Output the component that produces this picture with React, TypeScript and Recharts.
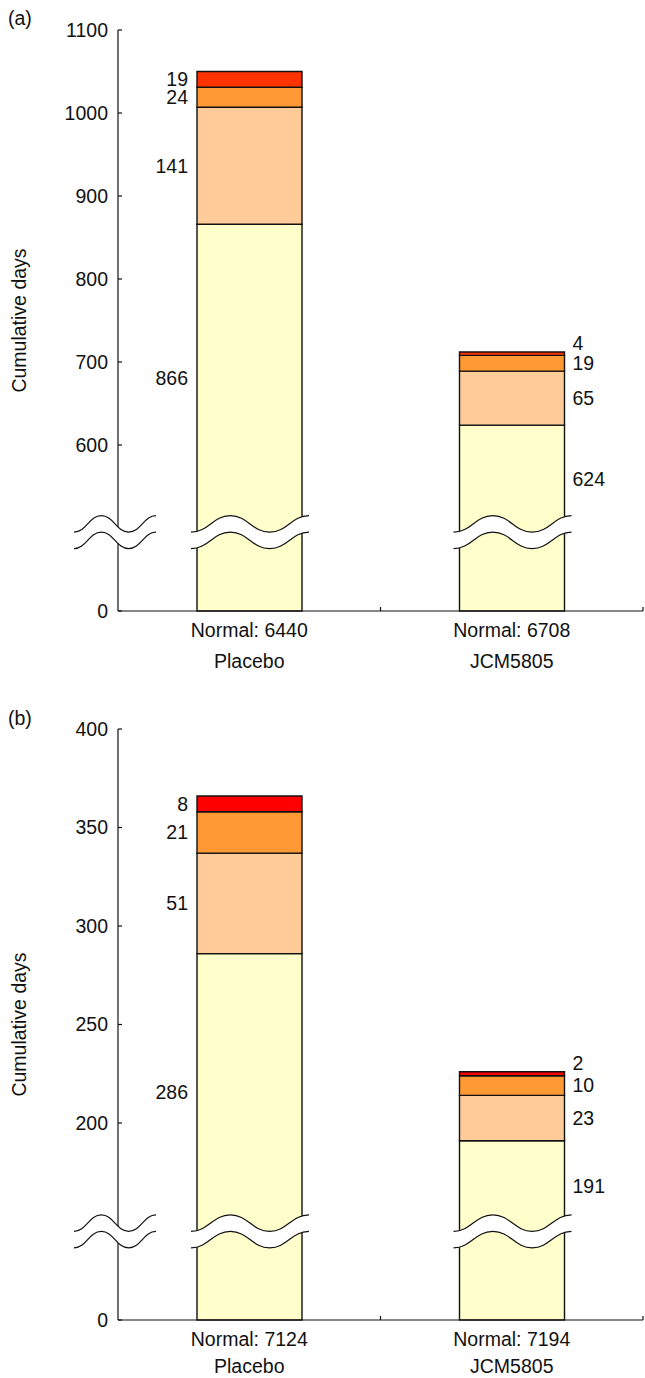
import React from 'react'
import { BarChart, Bar, XAxis, YAxis, ReferenceArea, LabelList } from 'recharts'

const FONT = '"Liberation Sans", Arial, Helvetica, sans-serif'
const INK = '#111'
const FS = 19.5

const groups = ['Placebo', 'JCM5805']

// panel (a)
const normalDaysA = [6440, 6708]
const level1A = [866, 624]
const level2A = [141, 65]
const level3A = [24, 19]
const level4A = [19, 4]
const tickValuesA = [0, 600, 700, 800, 900, 1000, 1100]
const colorsA = ['#FFFFCC', '#FFCC99', '#FF9933', '#FF3300']

// panel (b)
const normalDaysB = [7124, 7194]
const level1B = [286, 191]
const level2B = [51, 23]
const level3B = [21, 10]
const level4B = [8, 2]
const tickValuesB = [0, 200, 250, 300, 350, 400]
const colorsB = ['#FFFFCC', '#FFCC99', '#FF9933', '#FF0000']

// squiggle geometry
const BAND = 16.5
const AMP = 8.2

type Pt = [number, number]
type Seg = [Pt, Pt, Pt, Pt]

function waveSegs(x0: number, w: number, cy: number): Seg[] {
  const h = w / 3
  const ys = [cy + AMP, cy - AMP, cy + AMP, cy - AMP]
  const segs: Seg[] = []
  for (let i = 0; i < 3; i++) {
    const xa = x0 + i * h
    const xb = xa + h
    segs.push([
      [xa, ys[i]],
      [xa + h * 0.45, ys[i]],
      [xb - h * 0.45, ys[i + 1]],
      [xb, ys[i + 1]],
    ])
  }
  return segs
}

function BreakMark({ x0, w, cy }: { x0: number; w: number; cy: number }) {
  const up = waveSegs(x0, w, cy - BAND / 2)
  const lo = waveSegs(x0, w, cy + BAND / 2)
  const line = (segs: Seg[]) =>
    `M${segs[0][0]} ` + segs.map((s) => `C${s[1]} ${s[2]} ${s[3]}`).join(' ')
  const back = lo
    .slice()
    .reverse()
    .map((s) => `C${s[2]} ${s[1]} ${s[0]}`)
    .join(' ')
  const area = line(up) + ` L${lo[2][3]} ` + back + ' Z'
  return (
    <g>
      <path d={area} fill="#fff" stroke="none" />
      <path d={line(up)} fill="none" stroke={INK} strokeWidth={1.2} />
      <path d={line(lo)} fill="none" stroke={INK} strokeWidth={1.2} />
    </g>
  )
}

function GroupTick(props: any) {
  const { x, y, payload, index, normal, line1, line2 } = props
  const half = payload?.offset ?? (props.width || 0) / (props.visibleTicksCount || 2) / 2
  return (
    <g>
      <line x1={x + half} x2={x + half} y1={y} y2={y - 4} stroke={INK} strokeWidth={1.2} />
      <text x={x} y={y + line1} dy="0.355em" textAnchor="middle" fontSize={FS} fontFamily={FONT} fill={INK}>
        {`Normal: ${normal[index]}`}
      </text>
      <text x={x} y={y + line2} dy="0.355em" textAnchor="middle" fontSize={FS} fontFamily={FONT} fill={INK}>
        {payload.value}
      </text>
    </g>
  )
}

interface PanelProps {
  tag: string
  top: number
  height: number
  marginTop: number
  marginBottom: number
  xAxisHeight: number
  line1: number
  line2: number
  normal: number[]
  levels: number[][]
  tickValues: number[]
  colors: string[]
  offset: number // amount cut out of the axis above the break
  breakAt: number // position of the break in axis units
  max: number
}

function Panel(p: PanelProps) {
  const rows = groups.map((name, i) => ({
    name,
    l1: p.levels[0][i] - p.offset,
    l2: p.levels[1][i],
    l3: p.levels[2][i],
    l4: p.levels[3][i],
    r1: p.levels[0][i],
    r2: p.levels[1][i],
    r3: p.levels[2][i],
    r4: p.levels[3][i],
  }))
  const toAxis = (v: number) => (v === 0 ? 0 : v - p.offset)
  const ticks = p.tickValues.map(toAxis)

  const segLabel = (level: number) => (lp: any) => {
    const vb = lp.viewBox || lp
    const x = vb.x
    const w = vb.width
    const top = Math.min(vb.y, vb.y + vb.height)
    const h = Math.abs(vb.height)
    const i = lp.index
    let cy = top + h / 2
    if (level === 0) {
      const tv = rows[i].l1
      const brkPx = top + h - (h * p.breakAt) / tv
      cy = (top + brkPx) / 2
    } else if (level === 3 && h < 10) {
      cy = top - 8.5
    }
    const left = i === 0
    return (
      <text
        x={left ? x - 9 : x + w + 8}
        y={cy}
        dy="0.355em"
        textAnchor={left ? 'end' : 'start'}
        fontSize={FS}
        fontFamily={FONT}
        fill={INK}
      >
        {lp.value}
      </text>
    )
  }

  const baseShape = (sp: any) => {
    const top = Math.min(sp.y, sp.y + sp.height)
    const h = Math.abs(sp.height)
    const tv = sp.payload?.l1 ?? 1
    const brkPx = top + h - (h * p.breakAt) / tv
    return (
      <g>
        <rect x={sp.x} y={top} width={sp.width} height={h} fill={sp.fill} stroke={INK} strokeWidth={1.4} />
        <BreakMark x0={sp.x - 6} w={sp.width + 13} cy={brkPx} />
      </g>
    )
  }

  const keys = ['l1', 'l2', 'l3', 'l4']
  const rawKeys = ['r1', 'r2', 'r3', 'r4']

  return (
    <div style={{ position: 'absolute', left: 0, top: p.top, width: 645, height: p.height }}>
      <div
        style={{
          position: 'absolute',
          left: 8,
          top: 8,
          fontSize: FS,
          lineHeight: '20px',
          color: INK,
          fontFamily: FONT,
        }}
      >
        {p.tag}
      </div>
      <BarChart
        width={645}
        height={p.height}
        data={rows}
        margin={{ top: p.marginTop, right: 2, left: 0, bottom: p.marginBottom }}
      >
        <XAxis
          dataKey="name"
          height={p.xAxisHeight}
          tickSize={0}
          tickMargin={0}
          tickLine={false}
          interval={0}
          axisLine={{ stroke: INK, strokeWidth: 1.2 }}
          tick={(tp: any) => <GroupTick {...tp} normal={p.normal} line1={p.line1} line2={p.line2} />}
        />
        <YAxis
          type="number"
          domain={[0, p.max]}
          ticks={ticks}
          interval={0}
          width={118}
          tickSize={-4}
          tickMargin={14}
          tickFormatter={(v: number) => (v === 0 ? '0' : String(v + p.offset))}
          axisLine={{ stroke: INK, strokeWidth: 1.2 }}
          tickLine={{ stroke: INK, strokeWidth: 1.2 }}
          tick={{ fill: INK, fontSize: FS, fontFamily: FONT }}
          label={{
            value: 'Cumulative days',
            angle: -90,
            position: 'insideLeft',
            offset: 19,
            style: { textAnchor: 'middle', fontSize: FS, fill: INK, fontFamily: FONT },
          }}
        />
        {keys.map((k, li) => (
          <Bar
            key={k}
            dataKey={k}
            stackId="days"
            fill={p.colors[li]}
            stroke={INK}
            strokeWidth={1.4}
            barSize={105}
            isAnimationActive={false}
            shape={li === 0 ? baseShape : undefined}
          >
            <LabelList dataKey={rawKeys[li]} content={segLabel(li)} />
          </Bar>
        ))}
        <ReferenceArea
          y1={p.breakAt - 5}
          y2={p.breakAt + 5}
          ifOverflow="visible"
          zIndex={900}
          shape={(ra: any) => <BreakMark x0={ra.x - 44} w={82} cy={ra.y + ra.height / 2} />}
        />
      </BarChart>
    </div>
  )
}

export default function App() {
  return (
    <div
      style={{
        position: 'absolute',
        left: 0,
        top: 0,
        width: 645,
        height: 1378,
        background: '#fff',
        fontFamily: FONT,
      }}
    >
      <Panel
        tag="(a)"
        top={0}
        height={700}
        marginTop={30}
        marginBottom={19}
        xAxisHeight={70}
        line1={18.6}
        line2={50}
        normal={normalDaysA}
        levels={[level1A, level2A, level3A, level4A]}
        tickValues={tickValuesA}
        colors={colorsA}
        offset={400}
        breakAt={95}
        max={700}
      />
      <Panel
        tag="(b)"
        top={700}
        height={678}
        marginTop={29}
        marginBottom={0}
        xAxisHeight={58}
        line1={19}
        line2={46}
        normal={normalDaysB}
        levels={[level1B, level2B, level3B, level4B]}
        tickValues={tickValuesB}
        colors={colorsB}
        offset={100}
        breakAt={45}
        max={300}
      />
    </div>
  )
}
